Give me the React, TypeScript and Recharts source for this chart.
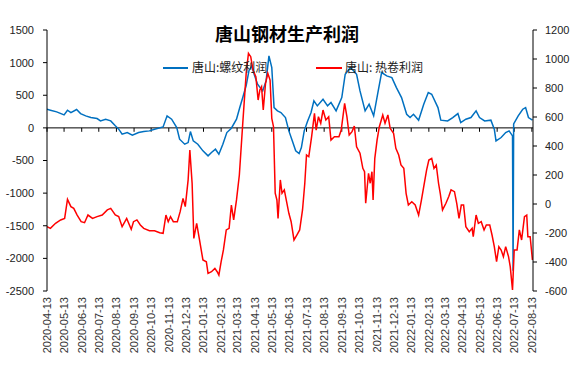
import { LineChart, Line, XAxis, YAxis, ReferenceLine } from 'recharts';

const monthTicks = [
  '2020-04-13', '2020-05-13', '2020-06-13', '2020-07-13', '2020-08-13', '2020-09-13', '2020-10-13',
  '2020-11-13', '2020-12-13', '2021-01-13', '2021-02-13', '2021-03-13', '2021-04-13', '2021-05-13',
  '2021-06-13', '2021-07-13', '2021-08-13', '2021-09-13', '2021-10-13', '2021-11-13', '2021-12-13',
  '2022-01-13', '2022-02-13', '2022-03-13', '2022-04-13', '2022-05-13', '2022-06-13', '2022-07-13',
  '2022-08-13',
];

const leftTicks = [-2500, -2000, -1500, -1000, -500, 0, 500, 1000, 1500];
const rightTicks = [-600, -400, -200, 0, 200, 400, 600, 800, 1000, 1200];

// 唐山:螺纹利润 (left axis)
const rebarProfit: [string, number][] = [
  ['2020-04-13', 286], ['2020-04-19', 271], ['2020-04-30', 245], ['2020-05-13', 199], ['2020-05-19', 271],
  ['2020-05-25', 235], ['2020-06-04', 281], ['2020-06-11', 219], ['2020-06-20', 184], ['2020-06-29', 158],
  ['2020-07-10', 143], ['2020-07-16', 107], ['2020-07-25', 133], ['2020-08-03', 107], ['2020-08-11', 31],
  ['2020-08-17', -20], ['2020-08-23', -97], ['2020-09-01', -72], ['2020-09-10', -112], ['2020-09-21', -72],
  ['2020-09-30', -56], ['2020-10-10', -46], ['2020-10-19', -20], ['2020-11-03', 15], ['2020-11-10', 184],
  ['2020-11-18', 133], ['2020-11-27', 5], ['2020-12-02', -173], ['2020-12-11', -250], ['2020-12-17', -225],
  ['2020-12-21', -56], ['2020-12-26', -199], ['2021-01-03', -250], ['2021-01-12', -352], ['2021-01-21', -429],
  ['2021-01-27', -378], ['2021-02-03', -327], ['2021-02-09', -403], ['2021-02-16', -250], ['2021-02-23', -72],
  ['2021-03-03', -5], ['2021-03-12', 133], ['2021-03-18', 320], ['2021-03-23', 465], ['2021-03-29', 650],
  ['2021-04-03', 880], ['2021-04-08', 950], ['2021-04-12', 822], ['2021-04-18', 670], ['2021-04-27', 567],
  ['2021-05-03', 720], ['2021-05-08', 1103], ['2021-05-13', 924], ['2021-05-17', 311], ['2021-05-23', 260],
  ['2021-05-29', 235], ['2021-06-06', 158], ['2021-06-12', -46], ['2021-06-18', -199], ['2021-06-24', -352],
  ['2021-06-30', -393], ['2021-07-04', -301], ['2021-07-09', -46], ['2021-07-15', 107], ['2021-07-21', 235],
  ['2021-07-26', 414], ['2021-08-01', 337], ['2021-08-11', 439], ['2021-08-19', 337], ['2021-08-25', 388],
  ['2021-09-03', 260], ['2021-09-13', 465], ['2021-09-19', 822], ['2021-09-28', 924], ['2021-10-04', 873],
  ['2021-10-09', 822], ['2021-10-15', 567], ['2021-10-24', 260], ['2021-10-31', 363], ['2021-11-08', 184],
  ['2021-11-16', 567], ['2021-11-22', 848], ['2021-12-01', 797], ['2021-12-10', 771], ['2021-12-18', 618],
  ['2021-12-27', 465], ['2022-01-05', 209], ['2022-01-11', 158], ['2022-01-17', 209], ['2022-01-26', 118],
  ['2022-02-04', 363], ['2022-02-12', 541], ['2022-02-18', 516], ['2022-03-01', 311], ['2022-03-06', 118],
  ['2022-03-18', 107], ['2022-03-27', 158], ['2022-04-05', 219], ['2022-04-10', 82], ['2022-04-19', 133],
  ['2022-04-28', 158], ['2022-05-07', 260], ['2022-05-13', 158], ['2022-05-22', 107], ['2022-06-02', 118],
  ['2022-06-08', -20], ['2022-06-11', -199], ['2022-06-20', -148], ['2022-06-28', -72], ['2022-07-04', -46],
  ['2022-07-10', -123], ['2022-07-11', -2190], ['2022-07-12', 60], ['2022-07-20', 184], ['2022-07-28', 286],
  ['2022-08-02', 311], ['2022-08-07', 158], ['2022-08-14', 118],
];

// 唐山: 热卷利润 (right axis)
const coilProfit: [string, number][] = [
  ['2020-04-13', -156], ['2020-04-19', -168], ['2020-04-28', -133], ['2020-05-07', -110], ['2020-05-14', -99],
  ['2020-05-19', 32], ['2020-05-25', -18], ['2020-05-30', -30], ['2020-06-05', -76], ['2020-06-12', -122],
  ['2020-06-18', -129], ['2020-06-24', -76], ['2020-07-02', -99], ['2020-07-10', -87], ['2020-07-19', -76],
  ['2020-07-28', -41], ['2020-08-03', -30], ['2020-08-11', -76], ['2020-08-17', -87], ['2020-08-23', -156],
  ['2020-08-31', -99], ['2020-09-08', -175], ['2020-09-12', -122], ['2020-09-18', -110], ['2020-09-24', -145],
  ['2020-09-30', -168], ['2020-10-10', -184], ['2020-10-19', -184], ['2020-10-28', -198], ['2020-11-03', -202],
  ['2020-11-08', -76], ['2020-11-12', -122], ['2020-11-16', -87], ['2020-11-21', -122], ['2020-11-28', -122],
  ['2020-12-03', -53], ['2020-12-08', 39], ['2020-12-12', -18], ['2020-12-17', 166], ['2020-12-20', 372],
  ['2020-12-24', 143], ['2020-12-27', -237], ['2021-01-01', -133], ['2021-01-06', -248], ['2021-01-12', -386],
  ['2021-01-18', -398], ['2021-01-21', -478], ['2021-01-27', -467], ['2021-02-02', -444], ['2021-02-06', -467],
  ['2021-02-09', -490], ['2021-02-13', -398], ['2021-02-17', -317], ['2021-02-22', -179], ['2021-02-27', -168],
  ['2021-03-03', -7], ['2021-03-07', -110], ['2021-03-12', 28], ['2021-03-17', 200], ['2021-03-23', 557],
  ['2021-03-29', 901], ['2021-04-02', 1039], ['2021-04-06', 1016], ['2021-04-10', 924], ['2021-04-15', 878],
  ['2021-04-19', 717], ['2021-04-22', 786], ['2021-04-25', 809], ['2021-04-28', 648], ['2021-05-02', 832],
  ['2021-05-06', 901], ['2021-05-10', 855], ['2021-05-13', 591], ['2021-05-16', 533], ['2021-05-19', 74],
  ['2021-05-22', 28], ['2021-05-24', -99], ['2021-05-28', 166], ['2021-05-31', 74], ['2021-06-04', 97],
  ['2021-06-08', 16], ['2021-06-12', -64], ['2021-06-16', -122], ['2021-06-21', -248], ['2021-06-26', -214],
  ['2021-07-01', -179], ['2021-07-06', -41], ['2021-07-10', 143], ['2021-07-13', 338], ['2021-07-17', 326],
  ['2021-07-22', 464], ['2021-07-27', 625], ['2021-07-30', 510], ['2021-08-03', 602], ['2021-08-07', 557],
  ['2021-08-11', 648], ['2021-08-16', 579], ['2021-08-21', 602], ['2021-08-25', 441], ['2021-08-31', 464],
  ['2021-09-08', 464], ['2021-09-12', 510], ['2021-09-18', 694], ['2021-09-22', 602], ['2021-09-26', 476],
  ['2021-10-01', 499], ['2021-10-05', 538], ['2021-10-09', 395], ['2021-10-15', 350], ['2021-10-20', 246],
  ['2021-10-23', 223], ['2021-10-25', 5], ['2021-10-30', 212], ['2021-11-02', 143], ['2021-11-05', 223],
  ['2021-11-07', 28], ['2021-11-10', 315], ['2021-11-14', 441], ['2021-11-18', 533], ['2021-11-24', 614],
  ['2021-11-28', 557], ['2021-12-03', 614], ['2021-12-07', 522], ['2021-12-13', 488], ['2021-12-17', 384],
  ['2021-12-22', 338], ['2021-12-26', 269], ['2021-12-31', 246], ['2022-01-04', 74], ['2022-01-08', -7],
  ['2022-01-14', 16], ['2022-01-20', -7], ['2022-01-26', -76], ['2022-01-31', 28], ['2022-02-04', 120],
  ['2022-02-09', 234], ['2022-02-13', 303], ['2022-02-18', 315], ['2022-02-22', 246], ['2022-02-26', 269],
  ['2022-03-02', 143], ['2022-03-05', 74], ['2022-03-09', -41], ['2022-03-15', 5], ['2022-03-20', 51],
  ['2022-03-24', 97], ['2022-03-30', 85], ['2022-04-03', 5], ['2022-04-07', -99], ['2022-04-11', -7],
  ['2022-04-15', -7], ['2022-04-19', -156], ['2022-04-25', -191], ['2022-04-30', -168], ['2022-05-02', -225],
  ['2022-05-07', -76], ['2022-05-11', -133], ['2022-05-16', -122], ['2022-05-21', -179], ['2022-05-25', -145],
  ['2022-05-31', -145], ['2022-06-04', -214], ['2022-06-08', -294], ['2022-06-12', -398], ['2022-06-16', -294],
  ['2022-06-20', -317], ['2022-06-24', -363], ['2022-06-28', -294], ['2022-07-03', -363], ['2022-07-06', -432],
  ['2022-07-10', -593], ['2022-07-13', -317], ['2022-07-18', -317], ['2022-07-22', -179], ['2022-07-26', -248],
  ['2022-07-31', -87], ['2022-08-04', -76], ['2022-08-06', -225], ['2022-08-10', -225], ['2022-08-14', -386],
];

const toTime = (d: string) => Date.parse(d + 'T00:00:00Z');
const fmtDate = (t: number) => new Date(t).toISOString().slice(0, 10);

const rebarData = rebarProfit.map(([d, v]) => ({ t: toTime(d), v }));
const coilData = coilProfit.map(([d, v]) => ({ t: toTime(d), v }));
const xTicks = monthTicks.map(toTime);

const DateTick = ({ x, y, payload }: any) => (
  <text
    transform={`translate(${x},${y}) rotate(-90)`}
    textAnchor="end"
    dominantBaseline="central"
    fontSize={11}
    fill="#333"
    fontFamily="Liberation Sans, Arial, sans-serif"
  >
    {fmtDate(payload.value)}
  </text>
);

const cjk = '"Noto Sans CJK SC", "Noto Sans", sans-serif';

export default function App() {
  return (
    <div style={{ position: 'absolute', left: 0, top: 0, width: 574, height: 371, background: '#fff' }}>
      <LineChart width={574} height={371} margin={{ top: 30, right: 0, bottom: 0, left: 0 }}>
        <XAxis
          dataKey="t"
          type="number"
          xAxisId={0}
          domain={[toTime('2020-04-13'), toTime('2022-08-15')]}
          ticks={xTicks}
          interval={0}
          tick={<DateTick />}
          axisLine={false}
          tickLine={false}
          tickSize={0}
          tickMargin={6}
          height={80}
          allowDataOverflow
        />
        <YAxis
          yAxisId="left"
          domain={[-2500, 1500]}
          ticks={leftTicks}
          interval={0}
          width={47}
          stroke="#000"
          tickSize={4}
          tickMargin={9}
          tick={{ fontSize: 11, fill: '#222', fontFamily: 'Liberation Sans, Arial, sans-serif' }}
        />
        <YAxis
          yAxisId="right"
          orientation="right"
          domain={[-600, 1200]}
          ticks={rightTicks}
          interval={0}
          width={41}
          stroke="#000"
          tickSize={4}
          tickMargin={8}
          tick={{ fontSize: 11, fill: '#222', fontFamily: 'Liberation Sans, Arial, sans-serif' }}
        />
        <ReferenceLine yAxisId="left" y={0} stroke="#000" strokeWidth={1} />
        {xTicks.map((t) => (
          <ReferenceLine
            key={t}
            yAxisId="left"
            segment={[{ x: t, y: 0 }, { x: t, y: -60 }]}
            stroke="#000"
            strokeWidth={1}
          />
        ))}
        <Line
          data={rebarData}
          dataKey="v"
          yAxisId="left"
          type="linear"
          stroke="#0070C0"
          strokeWidth={1.5}
          dot={false}
          isAnimationActive={false}
        />
        <Line
          data={coilData}
          dataKey="v"
          yAxisId="right"
          type="linear"
          stroke="#FF0000"
          strokeWidth={1.5}
          dot={false}
          isAnimationActive={false}
        />
      </LineChart>

      <div
        style={{
          position: 'absolute', top: 20, left: 0, width: 574, textAlign: 'center',
          fontFamily: cjk, fontWeight: 700, fontSize: 18, lineHeight: '26px', color: '#000',
        }}
      >
        唐山钢材生产利润
      </div>

      <div style={{ position: 'absolute', top: 58, left: 163, fontFamily: cjk, fontSize: 12, color: '#222' }}>
        <span style={{ position: 'absolute', left: 0, top: 9, width: 25, height: 2, background: '#0070C0' }} />
        <span style={{ position: 'absolute', left: 29, top: 0, whiteSpace: 'nowrap', lineHeight: '18px' }}>唐山:螺纹利润</span>
        <span style={{ position: 'absolute', left: 153, top: 9, width: 26, height: 2, background: '#FF0000' }} />
        <span style={{ position: 'absolute', left: 182, top: 0, whiteSpace: 'nowrap', lineHeight: '18px' }}>唐山: 热卷利润</span>
      </div>
    </div>
  );
}
